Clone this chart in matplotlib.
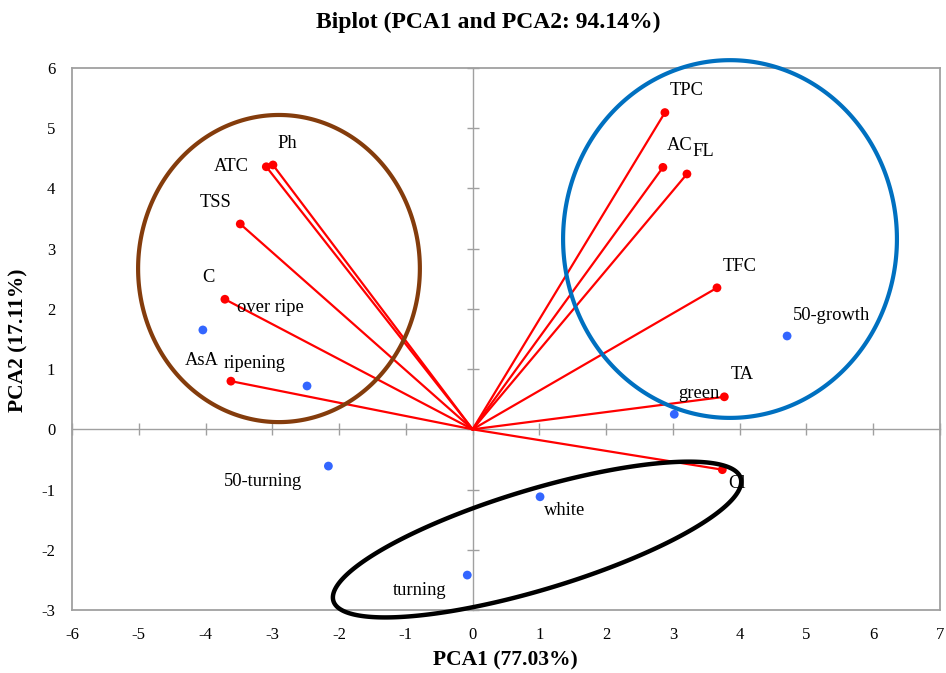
import numpy as np
import matplotlib
matplotlib.use("Agg")
import matplotlib.pyplot as plt
from matplotlib.patches import Polygon

plt.rcParams['font.family'] = ['Liberation Serif', 'DejaVu Serif']
plt.rcParams['axes.unicode_minus'] = False

# ---- data ----
var_names = ["Ph", "ATC", "TSS", "C", "AsA", "TPC", "AC", "FL", "TFC", "TA", "Cl"]
var_pc1 = [-2.99, -3.09, -3.48, -3.71, -3.62, 2.88, 2.85, 3.21, 3.66, 3.77, 3.74]
var_pc2 = [4.39, 4.36, 3.41, 2.16, 0.80, 5.26, 4.35, 4.24, 2.35, 0.54, -0.67]

obs_names = ["over ripe", "ripening", "50-growth", "green", "50-turning", "white", "turning"]
obs_pc1 = [-4.04, -2.48, 4.71, 3.02, -2.16, 1.01, -0.08]
obs_pc2 = [1.65, 0.72, 1.55, 0.25, -0.61, -1.12, -2.42]

x_ticks = list(range(-6, 8))
y_ticks = list(range(-3, 7))

title = "Biplot (PCA1 and PCA2: 94.14%)"
xlabel = "PCA1 (77.03%)"
ylabel = "PCA2 (17.11%)"

# label offsets (pixels)
var_off = [(14, 21), (-35, 0), (-25, 21), (-16, 22), (-29, 21), (22, 22),
           (17, 22), (16, 22), (23, 21), (18, 22), (15, -14)]
obs_off = [(68, 22), (-52, 22), (44, 20), (25, 21), (-65, -15), (25, -14), (-48, -15)]

# ---- figure ----
fig = plt.figure(figsize=(9.46, 6.73), dpi=100)
pos = [72 / 946, 1 - 610 / 673, 868 / 946, 542 / 673]

grey = '#a0a0a0'
# background axes: frame + tick labels
axf = fig.add_axes(pos, zorder=0)
axf.set_xlim(-6, 7)
axf.set_ylim(-3, 6)
axf.set_xticks(x_ticks)
axf.set_yticks(y_ticks)
axf.tick_params(length=0, pad=12, labelsize=12)
for s in axf.spines.values():
    s.set_color(grey)
    s.set_linewidth(1.3)

# main axes: zero axes with crossing ticks + data
ax = fig.add_axes(pos, zorder=1)
ax.patch.set_alpha(0)
ax.set_xlim(-6, 7)
ax.set_ylim(-3, 6)
ax.spines['top'].set_visible(False)
ax.spines['right'].set_visible(False)
ax.spines['left'].set_position(('data', 0))
ax.spines['bottom'].set_position(('data', 0))
for s in ('left', 'bottom'):
    ax.spines[s].set_color(grey)
    ax.spines[s].set_linewidth(1.0)
ax.set_xticks(x_ticks)
ax.set_yticks(y_ticks)
ax.tick_params(direction='inout', length=8, width=1.0, color=grey,
               labelleft=False, labelbottom=False)

red = '#ff0000'
for x, y in zip(var_pc1, var_pc2):
    ax.plot([0, x], [0, y], color=red, lw=1.6, zorder=3)
ax.scatter(var_pc1, var_pc2, s=40, color=red, zorder=4, edgecolors='none')
ax.scatter(obs_pc1, obs_pc2, s=40, color='#3366ff', zorder=4, edgecolors='none')

for name, x, y, o in zip(var_names, var_pc1, var_pc2, var_off):
    ax.annotate(name, (x, y), xytext=o, textcoords='offset pixels',
                ha='center', va='center', fontsize=13.3, zorder=5)
for name, x, y, o in zip(obs_names, obs_pc1, obs_pc2, obs_off):
    ax.annotate(name, (x, y), xytext=o, textcoords='offset pixels',
                ha='center', va='center', fontsize=13.3, zorder=5)

# group ellipses
t = np.linspace(0, 2 * np.pi, 400, endpoint=False)
def ell(cx, cy, ux, uy, vx, vy, color, lw):
    xs = cx + np.cos(t) * ux + np.sin(t) * vx
    ys = cy + np.cos(t) * uy + np.sin(t) * vy
    ax.add_patch(Polygon(np.column_stack([xs, ys]), closed=True, fill=False,
                         edgecolor=color, lw=lw, zorder=6, clip_on=False))

ell(-2.90, 2.67, 2.11, 0, 0, 2.55, '#843c0c', 3.0)
ell(3.855, 3.16, 2.50, 0, 0, 2.97, '#0070c0', 3.0)
ell(0.965, -1.83, 3.05, 1.02, 0.216, -0.795, 'black', 3.2)

fig.text(488 / 946, 1 - 22 / 673, title, ha='center', va='center',
         fontsize=17, fontweight='bold')
fig.text(505 / 946, 1 - 660 / 673, xlabel, ha='center', va='center',
         fontsize=15.5, fontweight='bold')
fig.text(18 / 946, 1 - 340 / 673, ylabel, ha='center', va='center',
         fontsize=15.5, fontweight='bold', rotation=90)

fig.savefig("out.png", dpi=100)
